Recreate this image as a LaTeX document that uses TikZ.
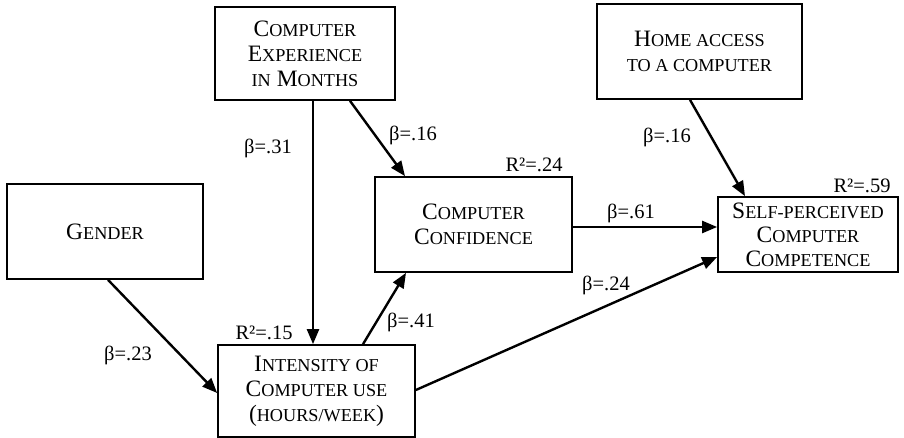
\documentclass[tikz,border=0pt]{standalone}
\usepackage{fontspec}
\setmainfont{Liberation Serif}
\usetikzlibrary{arrows.meta}
\newcommand\sm[1]{{\fontsize{18.2}{25}\selectfont #1}}
\begin{document}
\begin{tikzpicture}[x=1pt,y=-1pt,
  box/.style={draw,line width=1.7pt,rectangle,inner sep=0pt,align=center,
    font=\fontsize{23.5}{25}\selectfont},
  arr/.style={line width=2.4pt,-{Triangle[length=15pt,width=12pt]}},
  lab/.style={inner sep=0pt,font=\fontsize{20.5}{22}\selectfont}]
\fill[white] (0,0) rectangle (904,438);
\useasboundingbox (0,0) rectangle (904,438);

\node[box,minimum width=180pt,minimum height=93pt] (exp) at (305,53.5)
  {C\sm{OMPUTER}\\E\sm{XPERIENCE}\\\sm{IN} M\sm{ONTHS}};
\node[box,minimum width=196pt,minimum height=95pt] (gender) at (105,231.5)
  {G\sm{ENDER}};
\node[box,minimum width=197pt,minimum height=92pt] (intens) at (316.5,391)
  {I\sm{NTENSITY OF}\\C\sm{OMPUTER USE}\\(\sm{HOURS/WEEK})};
\node[box,minimum width=197pt,minimum height=95pt] (conf) at (473.5,224.5)
  {C\sm{OMPUTER}\\C\sm{ONFIDENCE}};
\node[box,minimum width=205pt,minimum height=95pt] (home) at (699.5,51.5)
  {H\sm{OME ACCESS}\\\sm{TO A COMPUTER}};
\node[box,minimum width=180pt,minimum height=75pt,
  font=\fontsize{23.5}{24}\selectfont] (self) at (808,234.5)
  {S\sm{ELF-PERCEIVED}\\C\sm{OMPUTER}\\C\sm{OMPETENCE}};

\draw[arr] ([xshift=8pt]exp.south) -- ([xshift=8pt]exp.south |- intens.north);
\draw[arr] ([xshift=45pt]exp.south) -- ([xshift=-68.5pt]conf.north);
\draw[arr] ([xshift=3pt]gender.south) -- ([yshift=-2pt]intens.west);
\draw[arr] ([xshift=46.5pt]intens.north) -- ([xshift=-67.5pt]conf.south);
\draw[arr] ([yshift=-2.5pt]conf.east) -- ([yshift=-2.5pt]conf.east -| self.west);
\draw[arr] ([yshift=1pt]intens.east) -- ([yshift=-22.5pt]self.west);
\draw[arr] ([xshift=-9.5pt]home.south) -- ([xshift=-63pt]self.north);

\node[lab] (b31) at (268,148) {β=.31};
\node[lab] (b16a) at (413,135) {β=.16};
\node[lab] (r24) at (534,165) {R²=.24};
\node[lab] (b16b) at (667,137) {β=.16};
\node[lab] (r59) at (862,186) {R²=.59};
\node[lab] (b61) at (631,213) {β=.61};
\node[lab] (b24) at (606,285) {β=.24};
\node[lab] (b41) at (411,322) {β=.41};
\node[lab] (r15) at (264,333) {R²=.15};
\node[lab] (b23) at (128,355) {β=.23};
\end{tikzpicture}
\end{document}
